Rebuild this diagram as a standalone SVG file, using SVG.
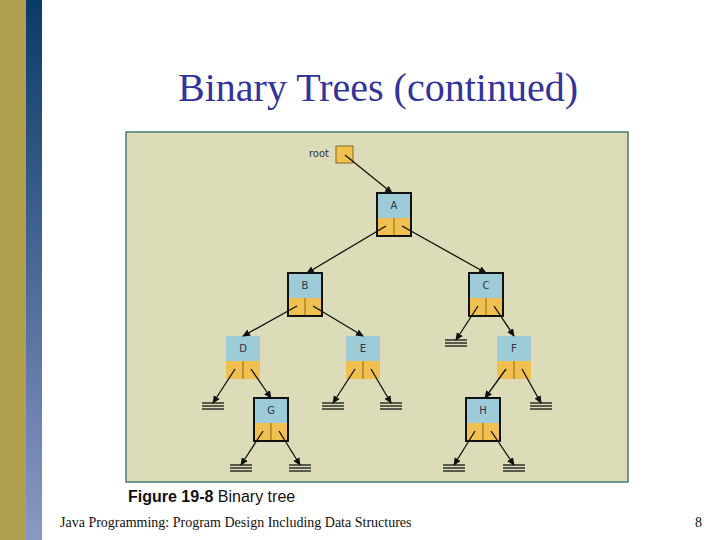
<svg xmlns="http://www.w3.org/2000/svg" width="720" height="540" viewBox="0 0 720 540">
<defs>
<linearGradient id="bg" x1="0" y1="0" x2="0" y2="1"><stop offset="0" stop-color="#0a3a6a"/><stop offset="1" stop-color="#8a98c4"/></linearGradient>
<marker id="ar" markerWidth="8" markerHeight="8" refX="7" refY="4" orient="auto" markerUnits="userSpaceOnUse"><path d="M0,0.5 L8,4 L0,7.5 z" fill="#111"/></marker>
<g id="gnd" stroke="#111" stroke-width="1.3"><line x1="-11" y1="0" x2="11" y2="0"/><line x1="-11" y1="3" x2="11" y2="3"/><line x1="-11" y1="6" x2="11" y2="6"/></g>
</defs>
<style>
.nb{fill:#9dcbd8}.no{fill:#f0c050}.fr{fill:none;stroke:#111;stroke-width:2}
.dv{stroke:#8a6a20;stroke-width:1}
.lb{font-family:"DejaVu Sans",sans-serif;font-size:10px;fill:#334;text-anchor:middle}
.c line{stroke:#111;stroke-width:1.3;marker-end:url(#ar)}
</style>
<rect width="720" height="540" fill="#fff"/>
<rect x="0" y="0" width="26" height="540" fill="#b0a050"/>
<rect x="26" y="0" width="16" height="540" fill="url(#bg)"/>
<text x="378" y="101" font-family="Liberation Serif,serif" font-size="40" fill="#333399" text-anchor="middle">Binary Trees (continued)</text>
<rect x="126" y="132" width="502" height="350" fill="#dcdcb8" stroke="#4a7a78" stroke-width="1.5"/>
<g id="root"><text x="329" y="157" class="lb" text-anchor="end" style="text-anchor:end">root</text><rect x="336" y="146" width="17" height="17" fill="#f0c050" stroke="#8a6a20"/></g>
<g id="nodes">
<g id="nA"><rect x="377" y="193" width="34" height="25" class="nb"/><rect x="377" y="218" width="34" height="18" class="no"/><line x1="394" y1="218" x2="394" y2="236" class="dv"/><rect x="377" y="193" width="34" height="43" class="fr"/><text x="394" y="209" class="lb">A</text></g>
<g id="nB"><rect x="288" y="273" width="34" height="25" class="nb"/><rect x="288" y="298" width="34" height="18" class="no"/><line x1="305" y1="298" x2="305" y2="316" class="dv"/><rect x="288" y="273" width="34" height="43" class="fr"/><text x="305" y="289" class="lb">B</text></g>
<g id="nC"><rect x="469" y="273" width="34" height="25" class="nb"/><rect x="469" y="298" width="34" height="18" class="no"/><line x1="486" y1="298" x2="486" y2="316" class="dv"/><rect x="469" y="273" width="34" height="43" class="fr"/><text x="486" y="289" class="lb">C</text></g>
<g id="nD"><rect x="226" y="336" width="34" height="25" class="nb"/><rect x="226" y="361" width="34" height="18" class="no"/><line x1="243" y1="361" x2="243" y2="379" class="dv"/><text x="243" y="352" class="lb">D</text></g>
<g id="nE"><rect x="346" y="336" width="34" height="25" class="nb"/><rect x="346" y="361" width="34" height="18" class="no"/><line x1="363" y1="361" x2="363" y2="379" class="dv"/><text x="363" y="352" class="lb">E</text></g>
<g id="nF"><rect x="497" y="336" width="34" height="25" class="nb"/><rect x="497" y="361" width="34" height="18" class="no"/><line x1="514" y1="361" x2="514" y2="379" class="dv"/><text x="514" y="352" class="lb">F</text></g>
<g id="nG"><rect x="254" y="398" width="34" height="25" class="nb"/><rect x="254" y="423" width="34" height="18" class="no"/><line x1="271" y1="423" x2="271" y2="441" class="dv"/><rect x="254" y="398" width="34" height="43" class="fr"/><text x="271" y="414" class="lb">G</text></g>
<g id="nH"><rect x="466" y="398" width="34" height="25" class="nb"/><rect x="466" y="423" width="34" height="18" class="no"/><line x1="483" y1="423" x2="483" y2="441" class="dv"/><rect x="466" y="398" width="34" height="43" class="fr"/><text x="483" y="414" class="lb">H</text></g>
</g>
<g id="grounds">
<use href="#gnd" x="213" y="403"/><use href="#gnd" x="333" y="403"/><use href="#gnd" x="391" y="403"/>
<use href="#gnd" x="456" y="340"/><use href="#gnd" x="541" y="403"/>
<use href="#gnd" x="241" y="465"/><use href="#gnd" x="300" y="465"/>
<use href="#gnd" x="454" y="465"/><use href="#gnd" x="514" y="465"/>
</g>
<g id="connectors" class="c">
<line x1="345" y1="155" x2="392" y2="193"/>
<line x1="386" y1="226" x2="307" y2="273"/>
<line x1="402" y1="226" x2="486" y2="273"/>
<line x1="297" y1="306" x2="243" y2="336"/>
<line x1="313" y1="306" x2="363" y2="336"/>
<line x1="478" y1="306" x2="456" y2="340"/>
<line x1="494" y1="306" x2="514" y2="336"/>
<line x1="235" y1="369" x2="213" y2="403"/>
<line x1="251" y1="369" x2="271" y2="398"/>
<line x1="355" y1="369" x2="333" y2="403"/>
<line x1="371" y1="369" x2="391" y2="403"/>
<line x1="506" y1="369" x2="485" y2="398"/>
<line x1="522" y1="369" x2="541" y2="403"/>
<line x1="263" y1="431" x2="241" y2="465"/>
<line x1="279" y1="431" x2="300" y2="465"/>
<line x1="475" y1="431" x2="454" y2="465"/>
<line x1="491" y1="431" x2="514" y2="465"/>
</g>
<text x="128" y="502" font-family="Liberation Sans,sans-serif" font-size="16" fill="#111"><tspan font-weight="bold">Figure 19-8</tspan> Binary tree</text>
<text x="60" y="527" font-family="Liberation Serif,serif" font-size="14" fill="#111">Java Programming: Program Design Including Data Structures</text>
<text x="702" y="527" font-family="Liberation Serif,serif" font-size="14" fill="#111" text-anchor="end">8</text>
</svg>
